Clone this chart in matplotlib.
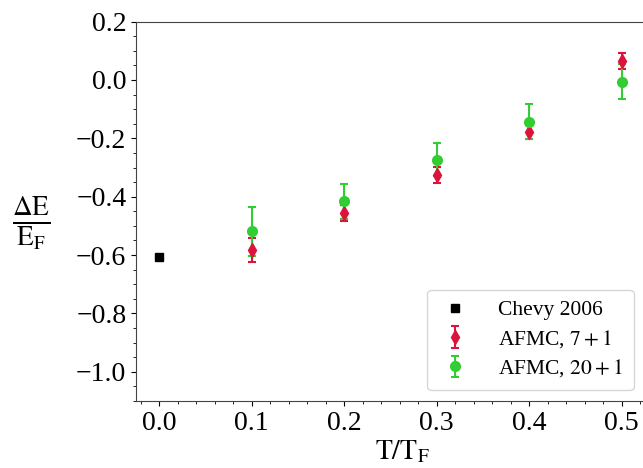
import numpy as np
import matplotlib.pyplot as plt

plt.rcParams['font.family'] = ['Liberation Serif', 'DejaVu Serif']
plt.rcParams['mathtext.fontset'] = 'stix'

# 数据
chevy_x = [0.0]
chevy_y = [-0.607]

t7 = [0.1, 0.2, 0.3, 0.4, 0.5]
e7 = [-0.583, -0.455, -0.326, -0.178, 0.065]
err7 = [0.042, 0.028, 0.027, 0.025, 0.026]

t20 = [0.1, 0.2, 0.3, 0.4, 0.5]
e20 = [-0.518, -0.416, -0.273, -0.144, -0.006]
err20 = [0.084, 0.061, 0.057, 0.060, 0.061]

fig = plt.figure(figsize=(6.43, 4.68), dpi=100)
ax = fig.add_axes([0.2115, 0.143, 0.827, 0.811])

ax.plot(chevy_x, chevy_y, 's', color='black', markersize=6, label='Chevy 2006')
ax.errorbar(t7, e7, yerr=err7, fmt='d', color='crimson', markersize=7,
            capsize=3, elinewidth=1.5, capthick=1.5, label=r'AFMC, $7+1$')
ax.errorbar(t20, e20, yerr=err20, fmt='o', color='limegreen', markersize=7,
            capsize=3, elinewidth=1.5, capthick=1.5, label=r'AFMC, $20+1$')

ax.set_xlim(-0.025, 0.55)
ax.set_ylim(-1.1, 0.2)
ax.set_xticks([0.0, 0.1, 0.2, 0.3, 0.4, 0.5])
ax.set_yticks(np.arange(-1.0, 0.21, 0.2))
ax.minorticks_on()
ax.tick_params(labelsize=20)
for s in ax.spines.values():
    s.set_color('#444444')

ax.set_xlabel(r'$\mathrm{T/T_F}$', fontsize=20, labelpad=2)
ax.set_ylabel(r'$\frac{\Delta\mathrm{E}}{\mathrm{E_F}}$', fontsize=28, rotation=0, va='center')
ax.yaxis.set_label_coords(-0.197, 0.469)

ax.legend(loc='lower right', fontsize=15.5, bbox_to_anchor=(0.936, 0.029), borderaxespad=0,
          borderpad=0.5, labelspacing=0.35, handlelength=1.6, handletextpad=1.2)

fig.savefig('out.png', dpi=100)
